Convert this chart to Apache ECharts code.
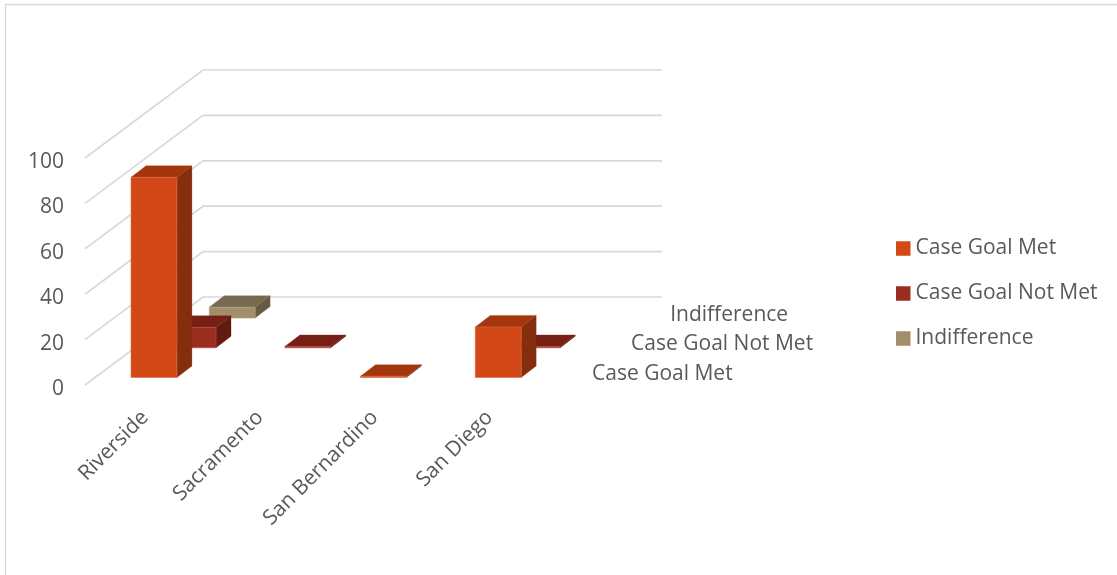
<!DOCTYPE html>
<html><head><meta charset="utf-8">
<style>html,body{margin:0;padding:0;background:#fff}#c{width:1117px;height:575px}</style>
<script src="https://cdn.jsdelivr.net/npm/echarts@6/dist/echarts.min.js"></script>
</head><body><div id="c"></div>
<script>
const categories = ['Riverside','Sacramento','San Bernardino','San Diego'];
const seriesNames = ['Case Goal Met','Case Goal Not Met','Indifference'];
const caseGoalMet = [88.2, 0, 0.6, 22.3];
const caseGoalNotMet = [9, 0.6, 0, 0.6];
const indifference = [4.8, 0, 0, 0];
const yTicks = [0,20,40,60,80,100];

const FONT = '"Open Sans", sans-serif';
const FONT_SIZE = 21;
const TEXT = '#595959';
const WALL = [118,-88];          // oblique depth of the whole floor
const ROW_STEP = [39.1,-29.7];   // shift between depth rows
const ROW_START = [11.6,-7.5];   // first row inset from the front edge
const BAR_DEPTH = [15,-11.5];    // oblique depth of one bar
const BAR_FRAC = 0.4;            // bar width as a share of the category band

const faces = [
  {front:'#D34817', side:'#842E0D', top:'#A3360D', edge:'#DE6A42'},
  {front:'#9B2D1F', side:'#621B11', top:'#771F14', edge:'#AE4F42'},
  {front:'#A28E6A', side:'#675A43', top:'#786A4F', edge:'#B3A386'}
];

function barRenderer(row){
  return function(params, api){
    const v = api.value(1);
    if(!v) return;
    const base = api.coord([api.value(0),0]);
    const tip = api.coord([api.value(0),v]);
    const w = api.size([1,0])[0]*BAR_FRAC;
    const ox = ROW_START[0]+ROW_STEP[0]*row - w/2, oy = ROW_START[1]+ROW_STEP[1]*row;
    const x0 = base[0]+ox, x1 = x0+w, yb = base[1]+oy, yt = tip[1]+oy;
    const dx = BAR_DEPTH[0], dy = BAR_DEPTH[1], f = faces[row];
    const poly = (pts,fill,stroke)=>({type:'polygon',shape:{points:pts},
      style:{fill:fill,stroke:stroke||fill,lineWidth:stroke?0.6:0.3}});
    return {type:'group',children:[
      poly([[x1,yb],[x1+dx,yb+dy],[x1+dx,yt+dy],[x1,yt]],f.side),
      poly([[x0,yt],[x1,yt],[x1+dx,yt+dy],[x0+dx,yt+dy]],f.top),
      poly([[x0,yb],[x1,yb],[x1,yt],[x0,yt]],f.front,f.edge)
    ]};
  };
}
function wallRenderer(params, api){
  const p = api.coord([0,api.value(0)]);
  const x = params.coordSys.x, w = params.coordSys.width;
  const y = p[1];
  return {type:'polyline',shape:{points:[[x,y],[x+WALL[0],y+WALL[1]],[x+WALL[0]+w,y+WALL[1]]]},
    style:{fill:'none',stroke:'#D9D9D9',lineWidth:1.7}};
}
function rowLabelRenderer(params, api){
  const row = params.dataIndex;
  const p = api.coord([0,0]);
  const x = params.coordSys.x+params.coordSys.width;
  return {type:'text',style:{
    x:x+48+ROW_STEP[0]*row, y:p[1]-11+ROW_STEP[1]*row,
    text:seriesNames[row], font:FONT_SIZE+'px '+FONT, fill:TEXT,
    textAlign:'left', textVerticalAlign:'middle'}};
}
const rows = [caseGoalMet,caseGoalNotMet,indifference];
const barSeries = rows.map((vals,row)=>({
  name:seriesNames[row], type:'custom', renderItem:barRenderer(row),
  coordinateSystem:'cartesian2d', clip:false, z:10-row,
  itemStyle:{color:faces[row].front},
  encode:{x:0,y:1},
  data:vals.map((v,i)=>[i,v])
}));

const chart = echarts.init(document.getElementById('c'),null,{renderer:'canvas'});
chart.setOption({
  animation:false,
  backgroundColor:'#fff',
  graphic:[{type:'polyline',silent:true,shape:{points:[[5.5,575],[5.5,4.5],[1117,4.5]]},
    style:{fill:'none',stroke:'#D9D9D9',lineWidth:1.3}}],
  grid:{left:85,top:158,width:459,height:227,containLabel:false},
  legend:{
    orient:'vertical',left:896,top:238,padding:0,itemWidth:14.5,itemHeight:14.5,itemGap:24,
    selectedMode:false,
    textStyle:{color:TEXT,fontFamily:FONT,fontSize:FONT_SIZE},
    data:seriesNames.map(n=>({name:n,icon:'rect'}))
  },
  xAxis:{type:'category',data:categories,
    axisLine:{show:false},axisTick:{show:false},splitLine:{show:false},
    axisLabel:{rotate:45,color:TEXT,fontFamily:FONT,fontSize:FONT_SIZE,margin:32,padding:[0,-4,0,0],interval:0}},
  yAxis:{type:'value',min:0,max:100,interval:20,
    axisLine:{show:false},axisTick:{show:false},splitLine:{show:false},
    axisLabel:{color:TEXT,fontFamily:FONT,fontSize:FONT_SIZE,margin:21,verticalAlign:'top',lineHeight:8}},
  series:[
    {type:'custom',renderItem:wallRenderer,clip:false,z:1,silent:true,encode:{y:0},data:yTicks.map(t=>[t])},
    {type:'custom',renderItem:rowLabelRenderer,clip:false,z:1,silent:true,data:seriesNames.map((n,i)=>[i])}
  ].concat(barSeries)
});
</script></body></html>
